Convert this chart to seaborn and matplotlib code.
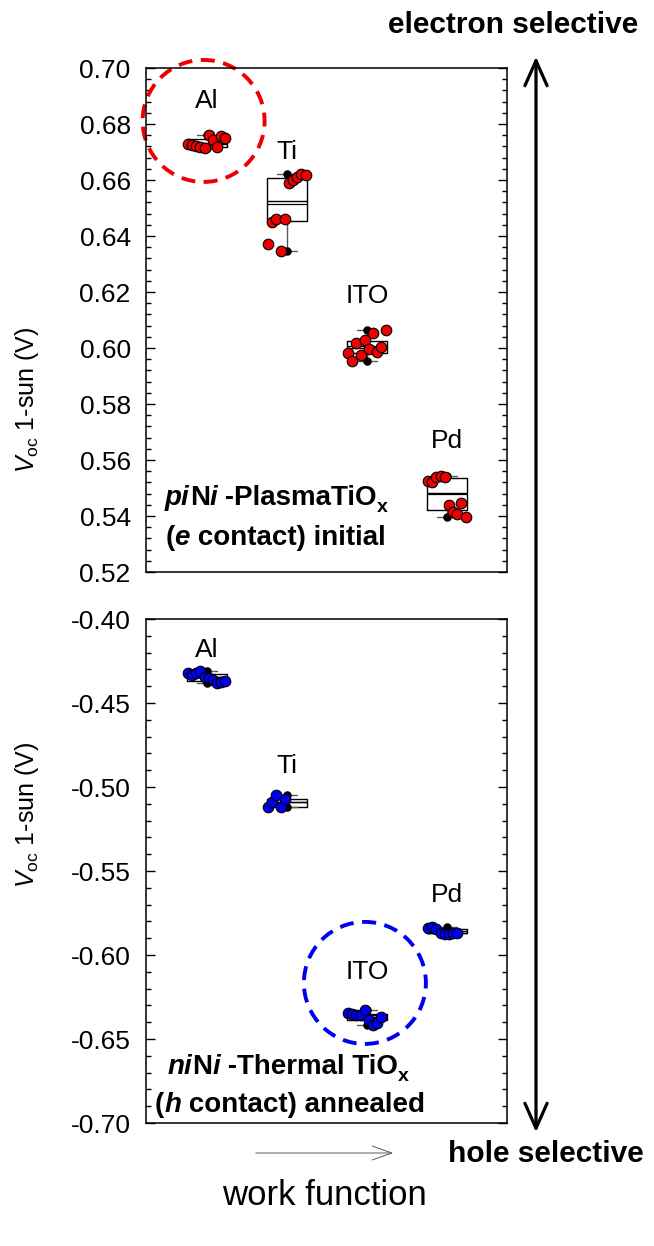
import numpy as np
import pandas as pd
import matplotlib
matplotlib.use("Agg")
import matplotlib.pyplot as plt
import seaborn as sns
from matplotlib.patches import Circle
from matplotlib.ticker import MultipleLocator, AutoMinorLocator, FormatStrFormatter
from matplotlib.transforms import ScaledTranslation

metals = ["Al", "Ti", "ITO", "Pd"]

# piNi - PlasmaTiOx (electron contact), initial state: Voc at 1 sun (V)
voc_e_al = [0.6729, 0.6725, 0.6721, 0.6717, 0.6713, 0.6761, 0.6743, 0.6717, 0.6757, 0.6750]
voc_e_ti = [0.6371, 0.6451, 0.6462, 0.6348, 0.6461, 0.6590, 0.6600, 0.6610, 0.6620, 0.6618]
voc_e_ito = [0.5983, 0.5954, 0.6019, 0.5975, 0.6029, 0.5995, 0.6053, 0.5987, 0.6002, 0.6064]
voc_e_pd = [0.5526, 0.5523, 0.5538, 0.5544, 0.5540, 0.5439, 0.5415, 0.5409, 0.5445, 0.5398]

# niNi - Thermal TiOx (hole contact), annealed: Voc at 1 sun (V)
voc_h_al = [-0.4323, -0.4333, -0.4320, -0.4308, -0.4343, -0.4353, -0.4363, -0.4379, -0.4373, -0.4367]
voc_h_ti = [-0.5117, -0.5087, -0.5047, -0.5117, -0.5071]
voc_h_ito = [-0.6346, -0.6352, -0.6356, -0.6356, -0.6327, -0.6386, -0.6415, -0.6402, -0.6370]
voc_h_pd = [-0.5838, -0.5832, -0.5846, -0.5866, -0.5872, -0.5874, -0.5870, -0.5868]

# label baselines (data units) for the metal names
label_y_top = [0.6856, 0.6675, 0.6160, 0.5642]
label_y_bot = [-0.4224, -0.4918, -0.6143, -0.5683]

FONT = "Liberation Sans"
sns.set_style("ticks")
plt.rcParams.update({
    "font.family": [FONT, "DejaVu Sans"],
    "mathtext.fontset": "custom",
    "mathtext.rm": FONT,
    "mathtext.it": FONT + ":italic",
    "mathtext.bf": FONT + ":bold",
    "axes.linewidth": 1.1,
    "axes.edgecolor": "black",
    "text.color": "black",
    "axes.labelcolor": "black",
    "xtick.color": "black",
    "ytick.color": "black",
})


def long_frame(groups):
    rows = []
    for i, (metal, vals) in enumerate(zip(metals, groups)):
        for k, v in enumerate(vals):
            rows.append({"metal": metal, "voc": v, "pos": i - 0.235 + 0.052 * k})
    return pd.DataFrame(rows)


def draw_panel(ax, groups, color):
    df = long_frame(groups)
    sns.boxplot(data=df, x="metal", y="voc", order=metals, ax=ax, width=0.5,
                whis=(0, 100), showfliers=False, fill=False, color="black",
                linewidth=1.0, showmeans=True, meanline=True,
                boxprops={"color": "black"},
                whiskerprops={"color": "0.35"}, capprops={"color": "0.35"},
                medianprops={"color": "black", "linewidth": 1.0},
                meanprops={"color": "black", "linewidth": 0.9, "linestyle": "-"})
    for i, vals in enumerate(groups):
        ax.scatter([i, i], [min(vals), max(vals)], s=26, color="black", zorder=3)
    sns.scatterplot(data=df, x="pos", y="voc", ax=ax, color=color,
                    edgecolor="black", linewidth=0.8, s=58, zorder=4, legend=False)
    ax.set_xlim(-0.76, 3.75)
    ax.set_xticks([])
    ax.set_xlabel("")
    ax.tick_params(axis="y", which="both", direction="in", left=True, right=True,
                   labelsize=19, pad=11)
    ax.tick_params(axis="y", which="major", length=6.5, width=1.0)
    ax.tick_params(axis="y", which="minor", length=3.5, width=1.0)
    ax.tick_params(axis="x", which="both", bottom=False, top=False)
    ax.yaxis.set_minor_locator(AutoMinorLocator(5))
    ax.yaxis.set_major_formatter(FormatStrFormatter("%.2f"))
    for s in ax.spines.values():
        s.set_visible(True)
        s.set_color("black")
    ax.set_ylabel(r"$V_{\mathrm{oc}}$ 1-sun (V)", fontsize=18)


def rich_line(ax, x, y, pieces, size):
    prev = None
    for text, style in pieces:
        kw = dict(fontsize=size, fontweight="bold",
                  fontstyle="italic" if style == "bi" else "normal")
        if style == "sub":
            kw["fontsize"] = size * 0.7
        if prev is None:
            prev = ax.text(x, y, text, transform=ax.transAxes, ha="left",
                           va="baseline", **kw)
        else:
            off = (0, -3.7) if style == "sub" else (0, 0)
            prev = ax.annotate(text, xy=(1, 0), xycoords=prev, xytext=off,
                               textcoords="offset points", ha="left",
                               va="bottom", **kw)


fig = plt.figure(figsize=(6.54, 12.46), dpi=100)
ax_top = fig.add_axes([0.2232, 0.5409, 0.5520, 0.4045])
ax_bot = fig.add_axes([0.2232, 0.0987, 0.5520, 0.4045])

draw_panel(ax_top, [voc_e_al, voc_e_ti, voc_e_ito, voc_e_pd], "#ee0000")
ax_top.set_ylim(0.52, 0.70)
ax_top.yaxis.set_major_locator(MultipleLocator(0.02))
ax_top.yaxis.set_label_coords(-0.29, 0.341)

draw_panel(ax_bot, [voc_h_al, voc_h_ti, voc_h_ito, voc_h_pd], "#0000ee")
ax_bot.set_ylim(-0.70, -0.40)
ax_bot.yaxis.set_major_locator(MultipleLocator(0.05))
ax_bot.yaxis.set_label_coords(-0.29, 0.611)

for i, m in enumerate(metals):
    ax_top.text(i, label_y_top[i], m, ha="center", va="baseline", fontsize=19)
    ax_bot.text(i, label_y_bot[i], m, ha="center", va="baseline", fontsize=19)

# panel descriptions
rich_line(ax_top, 0.0526, 0.133, [("pi", "bi"), ("N", "b"), ("i", "bi"),
                                  (" -PlasmaTiO", "b"), ("x", "sub")], 20)
rich_line(ax_top, 0.0536, 0.0536, [("(", "b"), ("e", "bi"),
                                   (" contact) initial", "b")], 20)
rich_line(ax_bot, 0.06, 0.0972, [("ni", "bi"), ("N", "b"), ("i", "bi"),
                                 (" -Thermal TiO", "b"), ("x", "sub")], 20)
rich_line(ax_bot, 0.025, 0.0218, [("(", "b"), ("h", "bi"),
                                  (" contact) annealed", "b")], 20)

# dashed highlight rings
for ax, cx, cy, col in [(ax_top, -0.04, 0.6811, "#ee0000"),
                        (ax_bot, 1.975, -0.6166, "#0000ee")]:
    ring = Circle((0, 0), radius=0.61, fill=False, edgecolor=col, linewidth=2.8,
                  linestyle=(0, (3.6, 2.2)), clip_on=False,
                  transform=fig.dpi_scale_trans + ScaledTranslation(cx, cy, ax.transData))
    ax.add_artist(ring)

# selectivity double arrow
fig.add_artist(matplotlib.patches.FancyArrowPatch(
    (536, 1246 - 1135), (536, 1246 - 54), transform=None,
    arrowstyle="<->,head_length=0.9,head_width=0.4", mutation_scale=20,
    linewidth=2.3, color="black"))
fig.text(513 / 654, (1246 - 33) / 1246, "electron selective", ha="center",
         va="baseline", fontsize=21.5, fontweight="bold")
fig.text(545.5 / 654, (1246 - 1162) / 1246, "hole selective", ha="center",
         va="baseline", fontsize=21.5, fontweight="bold")

# work function axis
fig.add_artist(matplotlib.patches.FancyArrowPatch(
    (253, 1246 - 1153), (396, 1246 - 1153), transform=None,
    arrowstyle="->,head_length=0.7,head_width=0.25", mutation_scale=20,
    linewidth=0.7, color="0.35"))
fig.text(324 / 654, (1246 - 1205) / 1246, "work function", ha="center",
         va="baseline", fontsize=25)

fig.savefig("out.png", dpi=100)
